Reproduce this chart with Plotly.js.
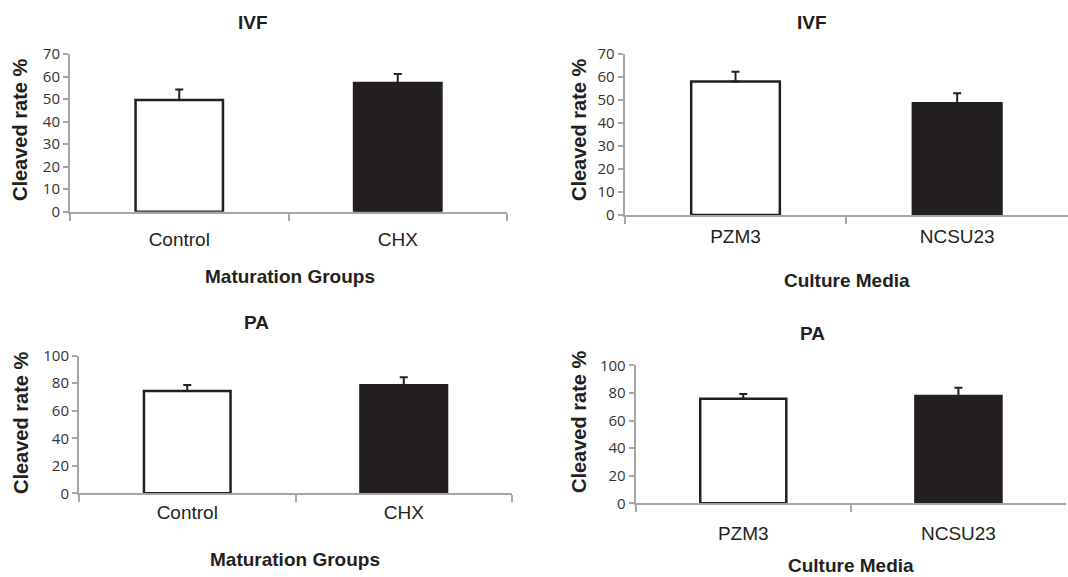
<!DOCTYPE html>
<html>
<head>
<meta charset="utf-8">
<script src="https://cdn.plot.ly/plotly-3.0.1.min.js"></script>
<style>html,body{margin:0;padding:0;background:#fff;}#chart{width:1068px;height:577px;}</style>
</head>
<body>
<div id="chart"></div>
<script>
// ---- data ----
var maturationGroups = ["Control", "CHX"];
var cultureMedia = ["PZM3", "NCSU23"];

var ivfMaturationMean = [49.6, 57.1];
var ivfMaturationErr  = [4.6, 4.0];
var ivfMediaMean      = [58.0, 48.6];
var ivfMediaErr       = [4.3, 4.3];
var paMaturationMean  = [74.3, 78.5];
var paMaturationErr   = [4.4, 5.8];
var paMediaMean       = [75.8, 77.8];
var paMediaErr        = [3.4, 6.0];

var panelTitles = ["IVF", "IVF", "PA", "PA"];
var xTitles = ["Maturation Groups", "Culture Media", "Maturation Groups", "Culture Media"];
var yTitle = "Cleaved rate %";

// ---- styles ----
var ink = "#231f20";
var axisGray = "#a6a6a6";
var barColors = ["#ffffff", ink];

function barTrace(cats, vals, errs, xa, ya) {
  return {
    type: "bar", x: cats, y: vals, xaxis: xa, yaxis: ya,
    width: 0.4,
    marker: { color: barColors, line: { color: ink, width: 2.5 } },
    error_y: { type: "data", symmetric: false, array: errs, arrayminus: errs.map(function(){return 0;}),
               color: ink, thickness: 2, width: 4 },
    hoverinfo: "x+y", showlegend: false
  };
}

var data = [
  barTrace(maturationGroups, ivfMaturationMean, ivfMaturationErr, "x", "y"),
  barTrace(cultureMedia, ivfMediaMean, ivfMediaErr, "x2", "y2"),
  barTrace(maturationGroups, paMaturationMean, paMaturationErr, "x3", "y3"),
  barTrace(cultureMedia, paMediaMean, paMediaErr, "x4", "y4")
];

function xAxis(domain, anchor, standoff) {
  return {
    domain: domain, anchor: anchor, type: "category",
    showline: true, linecolor: axisGray, linewidth: 2,
    ticks: "outside", tickson: "boundaries", ticklen: 7, tickcolor: axisGray, tickwidth: 2,
    showgrid: false, zeroline: false,
    tickfont: { family: "Liberation Sans, Arial, sans-serif", size: 19, color: ink },
    ticklabelstandoff: standoff,
    range: [-0.5, 1.5], fixedrange: true
  };
}
function yAxis(domain, anchor, range, dtick) {
  return {
    domain: domain, anchor: anchor, range: range, dtick: dtick, tick0: 0,
    showline: true, linecolor: axisGray, linewidth: 2,
    ticks: "outside", ticklen: 5, tickcolor: axisGray, tickwidth: 2,
    showgrid: false, zeroline: false,
    tickfont: { family: "Open Sans, sans-serif", size: 15, color: "#333333" },
    fixedrange: true
  };
}

var H = 577, W = 1068;
function px(x) { return x / W; }
function py(y) { return (H - y) / H; }

var layout = {
  width: W, height: H,
  margin: { l: 0, r: 0, t: 0, b: 0 },
  paper_bgcolor: "#ffffff", plot_bgcolor: "#ffffff",
  bargap: 0.6,
  xaxis:  xAxis([px(70), px(507)], "y", 9),
  yaxis:  yAxis([py(211.7), py(54)], "x", [0, 70], 10),
  xaxis2: xAxis([px(624.7), 1.0], "y2", 3),
  yaxis2: yAxis([py(215), py(54)], "x2", [0, 70], 10),
  xaxis3: xAxis([px(79), px(512)], "y3", 1),
  yaxis3: yAxis([py(493.3), py(355.7)], "x3", [0, 100], 20),
  xaxis4: xAxis([px(635.7), px(1066)], "y4", 12),
  yaxis4: yAxis([py(503.3), py(365.3)], "x4", [0, 100], 20),
  annotations: []
};

var titlePos = [[253, 23], [812, 23], [256, 323], [812, 333]];
var xTitlePos = [[290, 276], [847, 280], [295, 559], [851, 565]];
var yTitlePos = [[20, 130], [579, 130], [21, 423], [579, 422]];
var boldFont = { family: "Liberation Sans, Arial, sans-serif", size: 19, color: ink };

for (var i = 0; i < 4; i++) {
  layout.annotations.push({
    text: "<b>" + panelTitles[i] + "</b>", xref: "paper", yref: "paper",
    x: px(titlePos[i][0]), y: py(titlePos[i][1]), xanchor: "center", yanchor: "middle",
    showarrow: false, font: boldFont
  });
  layout.annotations.push({
    text: "<b>" + xTitles[i] + "</b>", xref: "paper", yref: "paper",
    x: px(xTitlePos[i][0]), y: py(xTitlePos[i][1]), xanchor: "center", yanchor: "middle",
    showarrow: false, font: boldFont
  });
  layout.annotations.push({
    text: "<b>" + yTitle + "</b>", xref: "paper", yref: "paper",
    x: px(yTitlePos[i][0]), y: py(yTitlePos[i][1]), xanchor: "center", yanchor: "middle",
    textangle: -90, showarrow: false,
    font: { family: "Liberation Sans, Arial, sans-serif", size: 20, color: ink }
  });
}

Plotly.newPlot("chart", data, layout, { displayModeBar: false, staticPlot: true });
</script>
</body>
</html>
